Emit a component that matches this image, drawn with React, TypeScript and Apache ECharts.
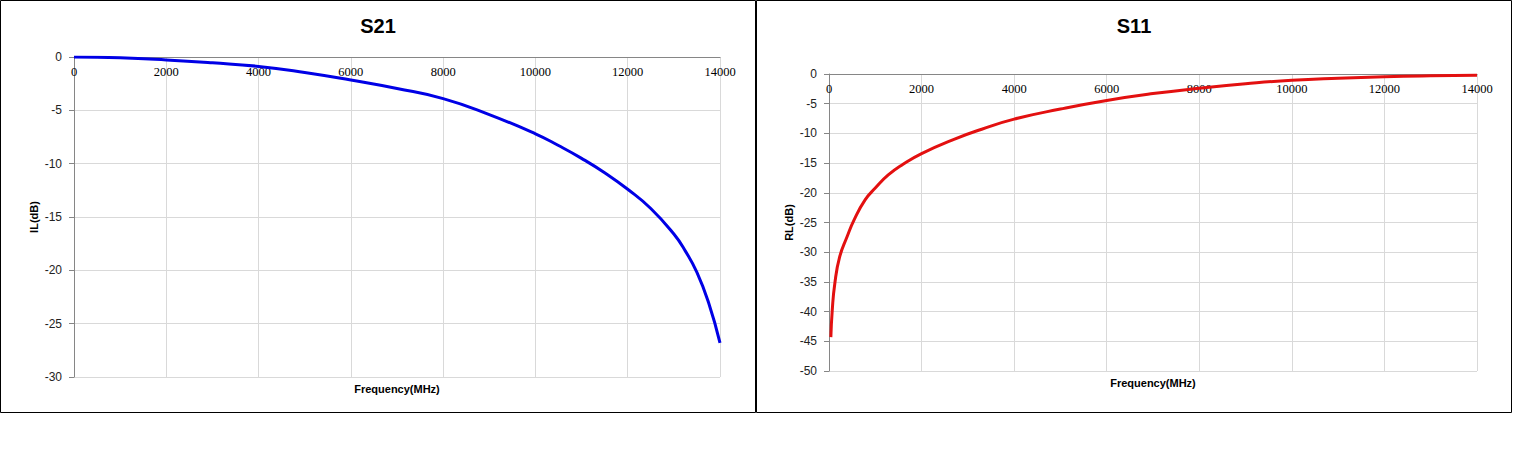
import React, { useEffect, useRef } from "react";
import * as echarts from "echarts";

const s21Freq = [0, 1000, 2000, 3000, 4000, 5000, 6000, 7000, 8000, 9000, 10000, 10500, 11000, 11500, 12000, 12500, 13000, 13250, 13500, 13750, 14000];
const s21Val = [0, -0.08, -0.28, -0.55, -0.88, -1.45, -2.16, -2.95, -3.9, -5.4, -7.2, -8.3, -9.5, -10.85, -12.4, -14.2, -16.6, -18.2, -20.2, -23.0, -26.8];

const s11Freq = [40, 70, 125, 230, 390, 540, 780, 1000, 1280, 1600, 2000, 2700, 3300, 4000, 5000, 6000, 7000, 8000, 9000, 10000, 11000, 12000, 13000, 14000];
const s11Val = [-44.3, -39.8, -35.3, -30.8, -27.4, -24.6, -21.2, -19.2, -17.0, -15.2, -13.4, -11.0, -9.3, -7.6, -5.9, -4.45, -3.3, -2.4, -1.65, -1.05, -0.7, -0.45, -0.3, -0.22];

const xTicks = { min: 0, max: 14000, interval: 2000 };
const s21Y = { min: -30, max: 0, interval: 5 };
const s11Y = { min: -50, max: 0, interval: 5 };

const AXIS = "#868686";
const GRID = "#d9d9d9";

function topAxis(gridIndex: number) {
  return {
    type: "value",
    gridIndex,
    position: "top",
    ...xTicks,
    axisLine: { show: true, onZero: false, lineStyle: { color: AXIS, width: 1 } },
    axisTick: { show: false },
    axisLabel: {
      inside: true,
      margin: 8,
      color: "#000",
      fontFamily: "Liberation Serif",
      fontSize: 12.5,
      showMinLabel: true,
      showMaxLabel: true,
      formatter: (v: number) => String(v),
    },
    splitLine: { show: true, lineStyle: { color: GRID, width: 1 } },
  };
}

function nameAxis(gridIndex: number) {
  return {
    type: "value",
    gridIndex,
    position: "bottom",
    ...xTicks,
    name: "Frequency(MHz)",
    nameLocation: "middle",
    nameGap: 6,
    nameTextStyle: { color: "#000", fontFamily: "Liberation Sans", fontWeight: "bold", fontSize: 11 },
    axisLine: { show: false },
    axisTick: { show: false },
    axisLabel: { show: false },
    splitLine: { show: false },
  };
}

function yAxis(gridIndex: number, range: any, name: string) {
  return {
    type: "value",
    gridIndex,
    ...range,
    name,
    nameLocation: "middle",
    nameRotate: 90,
    nameGap: 35,
    nameTextStyle: { color: "#000", fontFamily: "Liberation Sans", fontWeight: "bold", fontSize: 11 },
    axisLine: { show: true, onZero: false, lineStyle: { color: AXIS, width: 1 } },
    axisTick: { show: true, length: 5, lineStyle: { color: AXIS } },
    axisLabel: { margin: 12, color: "#222", fontFamily: "Liberation Sans", fontSize: 12, formatter: (v: number) => String(v) },
    splitLine: { show: true, lineStyle: { color: GRID, width: 1 } },
  };
}

export default function App() {
  const ref = useRef<HTMLDivElement>(null);
  useEffect(() => {
    document.body.style.margin = "0";
    if (!ref.current) return;
    const chart = echarts.init(ref.current, undefined, { renderer: "svg" });
    const s21Data = s21Freq.map((f, i) => [f, s21Val[i]]);
    const s11Data = s11Freq.map((f, i) => [f, s11Val[i]]);
    chart.setOption({
      animation: false,
      backgroundColor: "#fff",
      title: [
        {
          text: "S21",
          left: 378,
          top: 16,
          padding: 0,
          textAlign: "center",
          textStyle: { fontFamily: "Liberation Sans", fontWeight: "bold", fontSize: 20, color: "#000" },
        },
        {
          text: "S11",
          left: 1134,
          top: 16,
          padding: 0,
          textAlign: "center",
          textStyle: { fontFamily: "Liberation Sans", fontWeight: "bold", fontSize: 20, color: "#000" },
        },
      ],
      grid: [
        { left: 74, top: 57, width: 646, height: 320, containLabel: false },
        { left: 829, top: 74, width: 648, height: 297, containLabel: false },
      ],
      xAxis: [topAxis(0), nameAxis(0), topAxis(1), nameAxis(1)],
      yAxis: [yAxis(0, s21Y, "IL(dB)"), yAxis(1, s11Y, "RL(dB)")],
      series: [
        {
          type: "line",
          name: "S21",
          xAxisIndex: 0,
          yAxisIndex: 0,
          data: s21Data,
          smooth: 0.5,
          showSymbol: false,
          lineStyle: { color: "#0000e6", width: 3 },
        },
        {
          type: "line",
          name: "S11",
          xAxisIndex: 2,
          yAxisIndex: 1,
          data: s11Data,
          smooth: 0.5,
          showSymbol: false,
          lineStyle: { color: "#e31010", width: 3 },
        },
      ],
      graphic: [
        { type: "rect", shape: { x: 0.5, y: 0.5, width: 755, height: 412 }, style: { fill: "none", stroke: "#000", lineWidth: 1 }, silent: true },
        { type: "rect", shape: { x: 756.5, y: 0.5, width: 755, height: 412 }, style: { fill: "none", stroke: "#000", lineWidth: 1 }, silent: true },
      ],
    });
    return () => chart.dispose();
  }, []);
  return <div ref={ref} style={{ width: 1513, height: 460 }} />;
}
